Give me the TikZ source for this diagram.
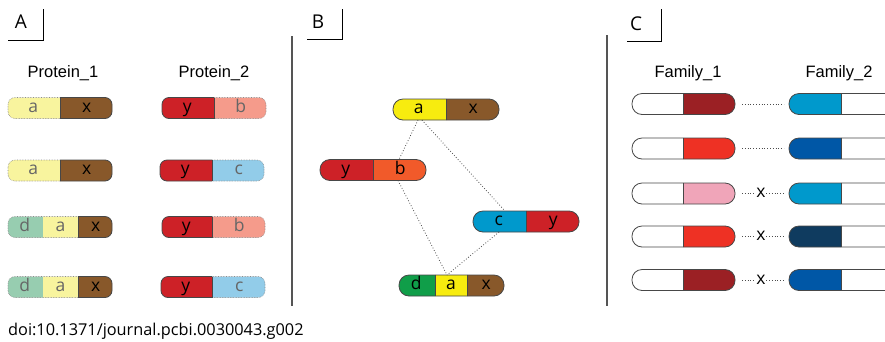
\documentclass[tikz,border=0pt]{standalone}
\usepackage{fontspec}
\newfontfamily\hdfont{Liberation Sans}
\newfontfamily\osfont{Open Sans}
\definecolor{lyel}{HTML}{F8F49E}
\definecolor{brn}{HTML}{88582A}
\definecolor{redA}{HTML}{CD2127}
\definecolor{salm}{HTML}{F59B8B}
\definecolor{lblu}{HTML}{92CCE9}
\definecolor{lgrn}{HTML}{97CDB0}
\definecolor{yel}{HTML}{F7EC0F}
\definecolor{orng}{HTML}{F15A2A}
\definecolor{cyanb}{HTML}{0099CC}
\definecolor{grn}{HTML}{109E49}
\definecolor{dred}{HTML}{9B2024}
\definecolor{bred}{HTML}{EE3124}
\definecolor{pinkc}{HTML}{F0A5B9}
\definecolor{mblu}{HTML}{0057A6}
\definecolor{navyc}{HTML}{0F3B5F}
\definecolor{sepc}{HTML}{555555}
\tikzset{
  lite/.style={draw=black!45, densely dotted, line width=0.6pt},
  dark/.style={draw=black!72, line width=0.8pt},
  lbl/.style={font=\osfont\fontsize{17.5}{18}\selectfont, inner sep=0pt, text height=9.4pt, text depth=1pt},
  hdr/.style={font=\hdfont\fontsize{16.5}{18}\selectfont, inner sep=0pt},
  panel/.style={font=\osfont\fontsize{19}{20}\selectfont, inner sep=0pt},
  sepline/.style={draw=sepc, line width=1.1pt},
  tag/.style={draw=black, line width=0.8pt},
  link/.style={draw=black!70, dotted, line width=0.8pt},
}
% #1 name, #2 L, #3 R, #4 cy, #5 radius, #6 segments xa/xb/fill/style/text/textcolour, #7 dividers
\newcommand{\capsule}[7]{%
  \foreach \xa/\xb/\col/\sty/\txt/\tcol [count=\k] in {#6}{%
    \begin{scope}
      \clip (\xa,#4-13) rectangle (\xb,#4+13);
      \fill[fill=\col, rounded corners=#5] (#2,#4-10.5) rectangle (#3,#4+10.5);
      \draw[\sty, rounded corners=#5] (#2,#4-10.5) rectangle (#3,#4+10.5);
    \end{scope}
    \node[lbl, text=\tcol] (#1-\k) at ({(\xa+\xb)/2},#4) {\txt};
  }%
  \foreach \d in {#7}{\draw[dark] (\d,#4-10.5) -- (\d,#4+10.5);}%
}
% plain capsule without labels
\newcommand{\plaincap}[6]{%
  \foreach \xa/\xb/\col in {#5}{%
    \begin{scope}
      \clip (\xa,#3-13) rectangle (\xb,#3+13);
      \fill[fill=\col, rounded corners=#4] (#1,#3-10.5) rectangle (#2,#3+10.5);
      \draw[dark, rounded corners=#4] (#1,#3-10.5) rectangle (#2,#3+10.5);
    \end{scope}
  }%
  \draw[dark] (#6,#3-10.5) -- (#6,#3+10.5);
}
\begin{document}
\begin{tikzpicture}[x=1pt,y=-1pt]
\useasboundingbox (0,0) rectangle (885,341);
\fill[white] (0,0) rectangle (885,341);

% panel tags
\node[panel] (tagA) at (21,22) {A};
\draw[tag] (8,40) -- (43,40) -- (43,9);
\node[panel] (tagB) at (318,22) {B};
\draw[tag] (307,39) -- (342,39) -- (342,9);
\node[panel] (tagC) at (636,24) {C};
\draw[tag] (627,41) -- (661,41) -- (661,9);

% separators
\draw[sepline] (292,36) -- (292,306);
\draw[sepline] (607,35) -- (607,306);

% ---------- Panel A ----------
\node[hdr] (prot1) at (63,73) {Protein\_1};
\node[hdr] (prot2) at (214,73) {Protein\_2};

\capsule{a1l}{8}{112}{108}{7}{6.5/60/lyel/lite/a/black!60, 60/113.5/brn/dark/x/black}{60}
\capsule{a1r}{162}{266}{108}{7}{160.5/214/redA/dark/y/black, 214/267.5/salm/lite/b/black!60}{214}

\capsule{a2l}{8}{112}{170.5}{7}{6.5/60/lyel/lite/a/black!60, 60/113.5/brn/dark/x/black}{60}
\capsule{a2r}{160}{264}{170.5}{7}{158.5/212/redA/dark/y/black, 212/265.5/lblu/lite/c/black!60}{212}

\capsule{a3l}{8}{112}{227}{7}{6.5/43/lgrn/lite/d/black!60, 43/78/lyel/lite/a/black!60, 78/113.5/brn/dark/x/black}{78}
\capsule{a3r}{162}{265}{227}{7}{160.5/212/redA/dark/y/black, 212/266.5/salm/lite/b/black!60}{212}

\capsule{a4l}{8}{112}{287}{7}{6.5/43/lgrn/lite/d/black!60, 43/78/lyel/lite/a/black!60, 78/113.5/brn/dark/x/black}{78}
\capsule{a4r}{161}{265}{287}{7}{159.5/212/redA/dark/y/black, 212/266.5/lblu/lite/c/black!60}{212}

% ---------- Panel B ----------
\capsule{bt}{393}{499}{109.5}{10}{391.5/446/yel/dark/a/black, 446/500.5/brn/dark/x/black}{446}
\capsule{byb}{320}{426}{170}{10}{318.5/373/redA/dark/y/black, 373/427.5/orng/dark/b/black}{373}
\capsule{bcy}{473}{579}{221.5}{10}{471.5/526/cyanb/dark/c/black, 526/580.5/redA/dark/y/black}{526}
\capsule{bdax}{399}{504}{285.5}{10}{397.5/435/grn/dark/d/black, 435/467/yel/dark/a/black, 467/505.5/brn/dark/x/black}{435,467}

\coordinate (bt-s1) at (418,120);
\coordinate (bt-s2) at (422,120);
\coordinate (byb-n) at (399,159.5);
\coordinate (byb-s) at (398,180.5);
\coordinate (bcy-n) at (505,211);
\coordinate (bcy-s) at (499,232);
\coordinate (bdax-n) at (447,275);
\draw[link] (bt-s1) -- (byb-n);
\draw[link] (bt-s2) -- (bcy-n);
\draw[link] (byb-s) -- (bdax-n);
\draw[link] (bcy-s) -- (bdax-n);

% ---------- Panel C ----------
\node[hdr] (fam1) at (688,73) {Family\_1};
\node[hdr] (fam2) at (839,73) {Family\_2};

\begin{scope}
\clip (600,0) rectangle (885,341);
\foreach \cy/\lc/\rc [count=\r] in {104/dred/cyanb, 148.5/bred/mblu, 193.5/pinkc/cyanb, 236.5/bred/navyc, 280/dred/mblu}{
  \plaincap{632}{735}{\cy}{10}{630.5/683/white, 683/736.5/\lc}{683}
  \plaincap{789}{920}{\cy}{10}{787.5/841/\rc, 841/921/white}{841}
  \coordinate (cl\r) at (742,\cy);
  \coordinate (cr\r) at (784,\cy);
}
\end{scope}
\draw[link] (cl1) -- (cr1);
\draw[link] (cl2) -- (cr2);
\foreach \r in {3,4,5}{
  \node[lbl, fill=white, inner sep=0.5pt] (cx\r) at (761,{(\r==3)*193.5+(\r==4)*236.5+(\r==5)*280}) {x};
  \draw[link] (cl\r) -- (cx\r);
  \draw[link] (cx\r) -- (cr\r);
}

% doi
\node[font=\osfont\fontsize{16.3}{18}\selectfont, anchor=base west, inner sep=0pt] (doi) at (8,335) {doi:10.1371/journal.pcbi.0030043.g002};
\end{tikzpicture}
\end{document}
